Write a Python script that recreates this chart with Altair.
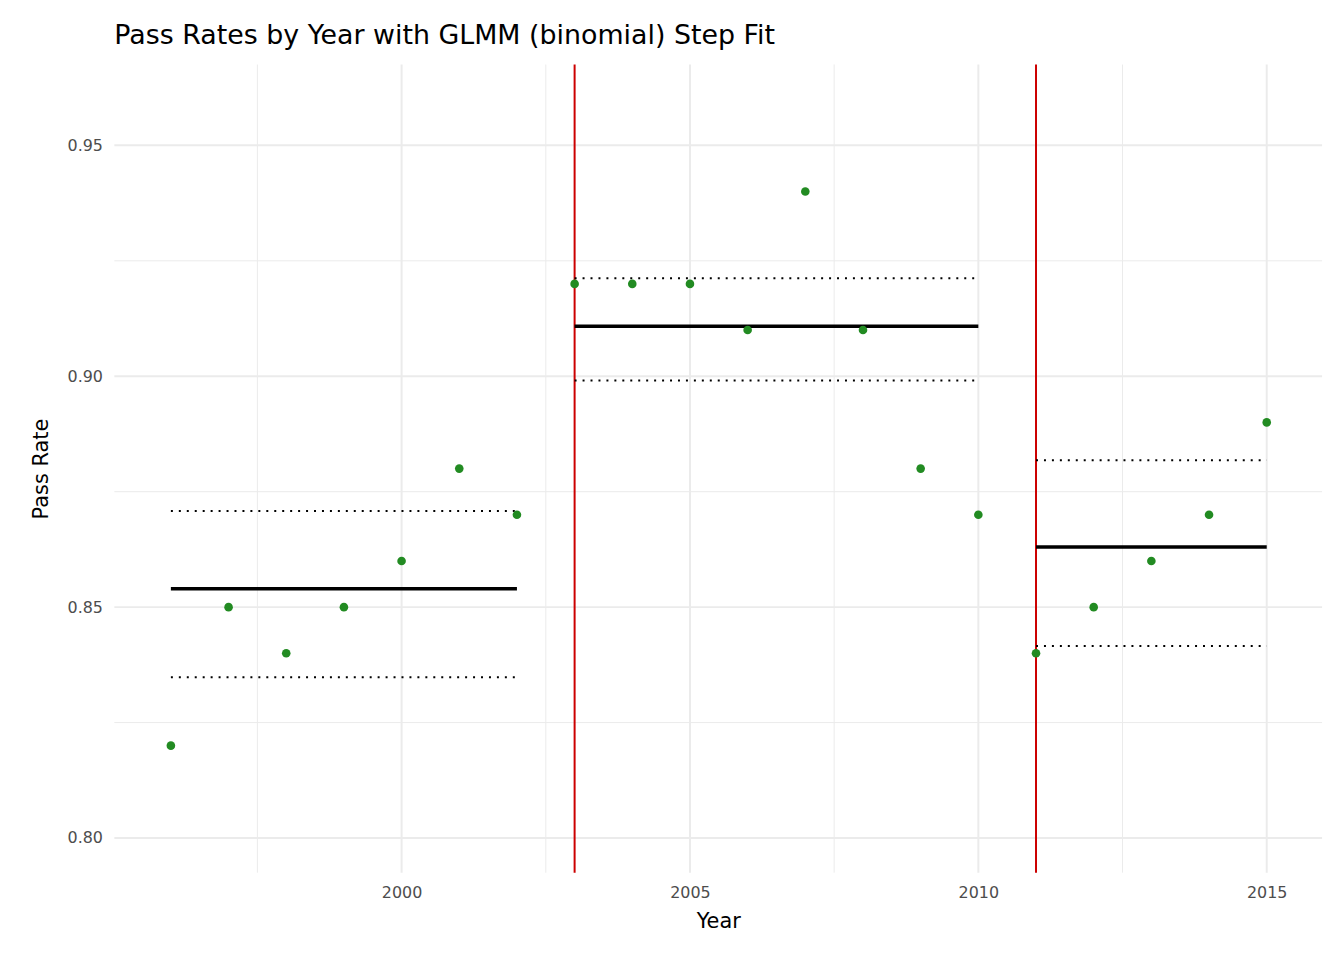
import altair as alt
import pandas as pd

years = list(range(1996, 2016))
pass_rate = [0.82, 0.85, 0.84, 0.85, 0.86, 0.88, 0.87, 0.92, 0.92, 0.92,
             0.91, 0.94, 0.91, 0.88, 0.87, 0.84, 0.85, 0.86, 0.87, 0.89]

seg_start = [1996, 2003, 2011]
seg_end = [2002, 2010, 2015]
seg_fit = [0.854, 0.9108, 0.863]
seg_lower = [0.8348, 0.8991, 0.8416]
seg_upper = [0.8708, 0.9212, 0.8818]
breaks = [2003, 2011]

x_major = [2000, 2005, 2010, 2015]
x_minor = [1997.5, 2002.5, 2007.5, 2012.5]
y_major = [0.80, 0.85, 0.90, 0.95]
y_minor = [0.825, 0.875, 0.925]

pts = pd.DataFrame({'Year': years, 'Rate': pass_rate})
segs = pd.DataFrame({'start': seg_start, 'end': seg_end, 'fit': seg_fit,
                     'lower': seg_lower, 'upper': seg_upper})

xs = alt.Scale(domain=[1995.02, 2015.96], nice=False, zero=False)
ys = alt.Scale(domain=[0.7925, 0.9675], nice=False, zero=False)

grid_major = '#EBEBEB'

def vgrid(vals, w):
    return alt.Chart(pd.DataFrame({'v': vals})).mark_rule(color=grid_major, strokeWidth=w).encode(
        x=alt.X('v:Q', scale=xs))

def hgrid(vals, w):
    return alt.Chart(pd.DataFrame({'v': vals})).mark_rule(color=grid_major, strokeWidth=w).encode(
        y=alt.Y('v:Q', scale=ys))

axis_style = dict(grid=False, domain=False, ticks=False,
                  labelFont='DejaVu Sans', labelFontSize=16, labelColor='#4D4D4D',
                  titleFont='DejaVu Sans', titleFontSize=21, titleFontWeight='normal',
                  titleColor='black', labelPadding=12)

points = alt.Chart(pts).mark_circle(color='#228B22', opacity=1, size=75).encode(
    x=alt.X('Year:Q', scale=xs, title='Year',
            axis=alt.Axis(values=x_major, format='d', titlePadding=10, **axis_style)),
    y=alt.Y('Rate:Q', scale=ys, title='Pass Rate',
            axis=alt.Axis(values=y_major, format='.2f', titlePadding=16, **axis_style))
)

fit = alt.Chart(segs).mark_rule(color='black', strokeWidth=3.5).encode(
    x=alt.X('start:Q', scale=xs), x2='end:Q', y=alt.Y('fit:Q', scale=ys))
lo = alt.Chart(segs).mark_rule(color='black', strokeWidth=2, strokeDash=[2, 6]).encode(
    x=alt.X('start:Q', scale=xs), x2='end:Q', y=alt.Y('lower:Q', scale=ys))
hi = alt.Chart(segs).mark_rule(color='black', strokeWidth=2, strokeDash=[2, 6]).encode(
    x=alt.X('start:Q', scale=xs), x2='end:Q', y=alt.Y('upper:Q', scale=ys))

vlines = alt.Chart(pd.DataFrame({'b': breaks})).mark_rule(color='#CC0000', strokeWidth=2).encode(
    x=alt.X('b:Q', scale=xs))

chart = alt.layer(
    vgrid(x_minor, 1), hgrid(y_minor, 1), vgrid(x_major, 2), hgrid(y_major, 2),
    vlines, lo, hi, fit, points
).properties(
    width=1215, height=813,
    autosize=alt.AutoSizeParams(type='none'),
    padding={'left': 107, 'top': 54, 'right': 14, 'bottom': 85},
    title=alt.TitleParams('Pass Rates by Year with GLMM (binomial) Step Fit',
                          anchor='start', frame='group', fontSize=27, fontWeight='normal',
                          font='DejaVu Sans', color='black', offset=14)
).configure_view(stroke=None)

chart.save("out.html", embed_options={"renderer": "svg", "actions": False})
